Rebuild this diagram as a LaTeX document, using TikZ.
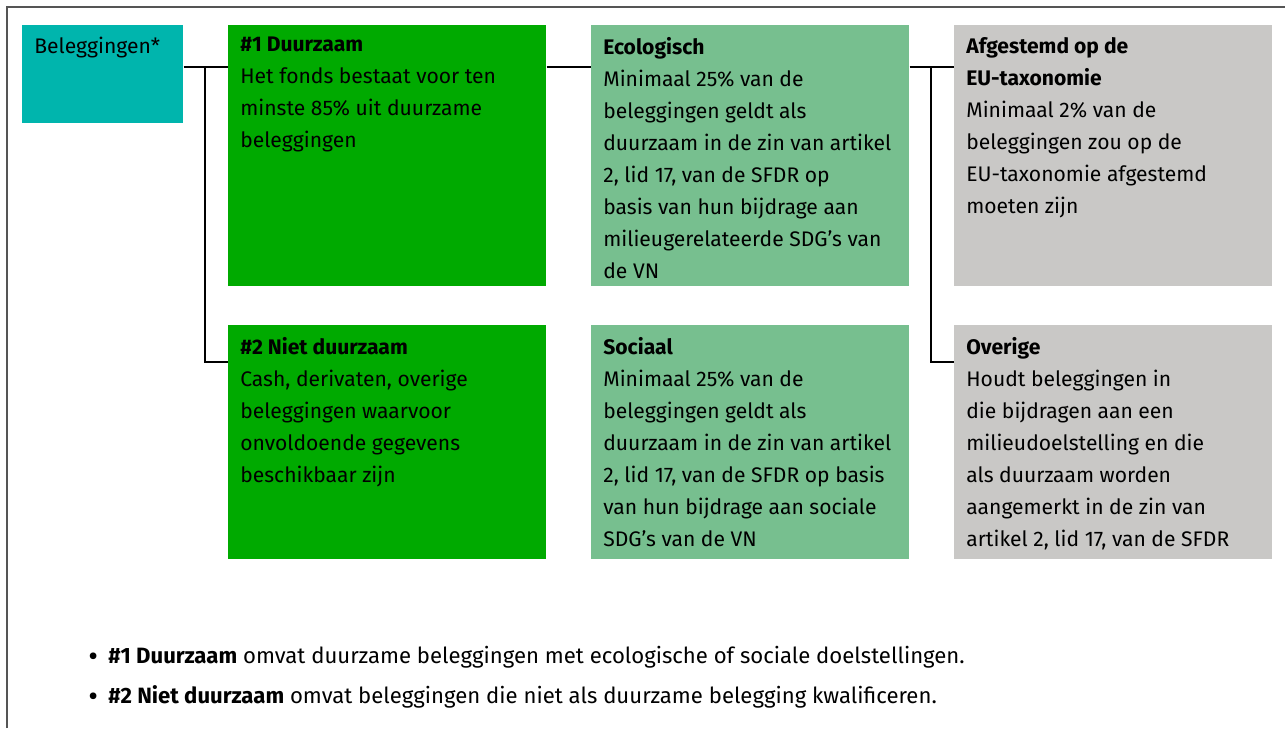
\documentclass[tikz,border=0pt]{standalone}
\usepackage{fontspec}
\setmainfont{Fira Sans}
\usepackage{xcolor}
\usetikzlibrary{positioning}

\definecolor{belegteal}{HTML}{00B5AD}
\definecolor{duurgreen}{HTML}{00AA00}
\definecolor{sublight}{HTML}{77BF8F}
\definecolor{taxgray}{HTML}{C9C8C6}
\definecolor{framegray}{HTML}{555555}

% text block inside a box: height, title, body
\newcommand{\boxtext}[3]{\parbox[t][#1][t]{5.88cm}{\raggedright\textbf{#2}\\#3}}
% bullet of the notes
\newcommand{\notebullet}{\makebox[0.4cm][l]{\raisebox{-0.3ex}{\fontsize{17}{17}\selectfont •}}}

\tikzset{
  box/.style={anchor=north west, inner sep=0.24cm, align=left, font=\fontsize{12}{18.2}\selectfont},
  note/.style={anchor=base west, inner sep=0pt, font=\fontsize{12.6}{18.2}\selectfont},
  link/.style={line width=1.1pt, black},
  frame/.style={line width=1.2pt, framegray}
}

\begin{document}
\begin{tikzpicture}[x=0.02cm, y=-0.02cm]

    \useasboundingbox (0,0) rectangle (1285,728);

    % frame (only top and left edge are in view)
    \draw[frame] (7,728) -- (7,7) -- (1285,7);

    % root
    \node[box, fill=belegteal, minimum width=3.22cm, minimum height=1.96cm] (beleg) at (22,25)
        {\parbox[t][1.48cm][t]{2.74cm}{Beleggingen*}};

    % first level
    \node[box, fill=duurgreen] (duur) at (228,25)
        {\boxtext{4.74cm}{\#1 Duurzaam}{Het fonds bestaat voor ten\\minste 85\% uit duurzame\\beleggingen}};
    \node[box, fill=duurgreen] (nietduur) at (228,325)
        {\boxtext{4.2cm}{\#2 Niet duurzaam}{Cash, derivaten, overige\\beleggingen waarvoor\\onvoldoende gegevens\\beschikbaar zijn}};

    % second level
    \node[box, fill=sublight] (eco) at (591,25)
        {\boxtext{4.74cm}{Ecologisch}{Minimaal 25\% van de\\beleggingen geldt als\\duurzaam in de zin van artikel\\2, lid 17, van de SFDR op\\basis van hun bijdrage aan\\milieugerelateerde SDG's van\\de VN}};
    \node[box, fill=sublight] (soc) at (591,325)
        {\boxtext{4.2cm}{Sociaal}{Minimaal 25\% van de\\beleggingen geldt als\\duurzaam in de zin van artikel\\2, lid 17, van de SFDR op basis\\van hun bijdrage aan sociale\\SDG's van de VN}};

    % third level
    \node[box, fill=taxgray] (tax) at (954,25)
        {\boxtext{4.74cm}{Afgestemd op de\\EU-taxonomie}{Minimaal 2\% van de\\beleggingen zou op de\\EU-taxonomie afgestemd\\moeten zijn}};
    \node[box, fill=taxgray] (overig) at (954,325)
        {\boxtext{4.2cm}{Overige}{Houdt beleggingen in\\die bijdragen aan een\\milieudoelstelling en die\\als duurzaam worden\\aangemerkt in de zin van\\artikel 2, lid 17, van de SFDR}};

    % junctions
    \coordinate (j1) at (205,67);
    \coordinate (j2) at (931,67);
    \coordinate (low) at (0,362);

    % connectors
    \draw[link] (beleg.east |- j1) -- (duur.west |- j1);
    \draw[link] (j1) |- (nietduur.west |- low);
    \draw[link] (duur.east |- j1) -- (eco.west |- j1);
    \draw[link] (eco.east |- j2) -- (tax.west |- j2);
    \draw[link] (j2) |- (overig.west |- low);

    % notes
    \node[note] (note1) at (88,663)
        {\notebullet\textbf{\#1 Duurzaam} omvat duurzame beleggingen met ecologische of sociale doelstellingen.};
    \node[note] (note2) at (88,703)
        {\notebullet\textbf{\#2 Niet duurzaam} omvat beleggingen die niet als duurzame belegging kwalificeren.};

\end{tikzpicture}
\end{document}
